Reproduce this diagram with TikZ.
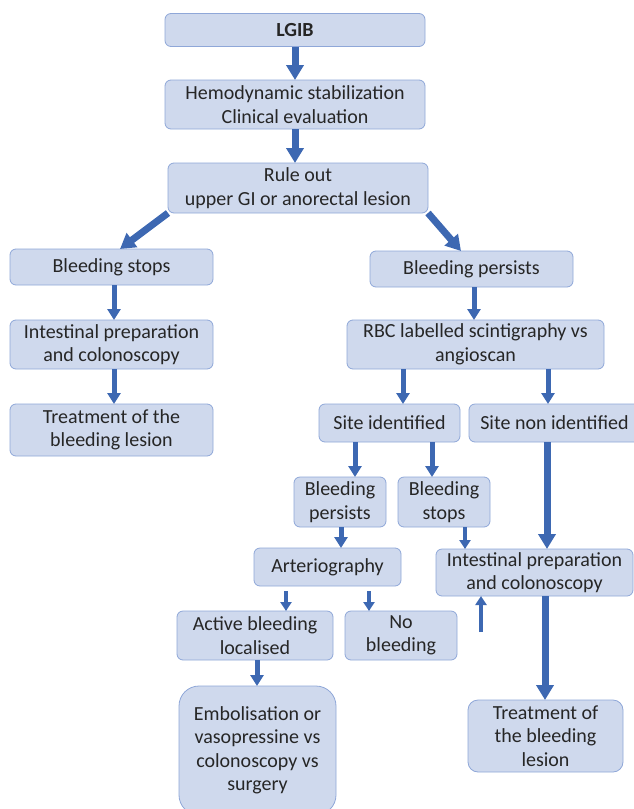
\documentclass[tikz,border=0pt]{standalone}
\usepackage{fontspec}
\setmainfont{Carlito}
\usetikzlibrary{arrows.meta}
\definecolor{boxfill}{RGB}{207,217,237}
\definecolor{boxline}{RGB}{143,167,216}
\definecolor{arrowblue}{RGB}{61,104,178}
\begin{document}
\begin{tikzpicture}
	[x=1pt,y=-1pt,
	every node/.style={inner sep=1pt,outer sep=0,align=center,text=black!85,
		font=\fontsize{20}{23.5}\selectfont},
	stage/.style={shape=rectangle,rounded corners=6pt,draw=boxline,fill=boxfill,line width=.8pt},
	bigarr/.style={-{Triangle[width=17pt,length=15pt]},line width=7pt,color=arrowblue},
	midarr/.style={-{Triangle[width=13pt,length=11pt]},line width=5pt,color=arrowblue},
	smallarr/.style={-{Triangle[width=11pt,length=9pt]},line width=4pt,color=arrowblue}]
	\def\wide{260pt}\def\half{203pt}
	\useasboundingbox (0,0) rectangle (634,809);
	\node[stage,minimum width=\wide,minimum height=33pt,font=\fontsize{20}{23.5}\selectfont\bfseries]
		(lgib) at (295,30) {LGIB};
	\node[stage,minimum width=\wide,minimum height=49pt] (hemo) at (295,104.5) {Hemodynamic stabilization\\Clinical evaluation};
	\node[stage,minimum width=\wide,minimum height=50pt] (rule) at (298,188) {Rule out\\upper GI or anorectal lesion};
	\node[stage,minimum width=\half,minimum height=36pt] (stopl) at (111.5,267) {Bleeding stops};
	\node[stage,minimum width=\half,minimum height=36pt] (persr) at (471.5,269) {Bleeding persists};
	\node[stage,minimum width=\half,minimum height=49pt] (prepl) at (111.5,344.5) {Intestinal preparation\\and colonoscopy};
	\node[stage,minimum width=\half,minimum height=52pt] (treatl) at (111.5,430) {Treatment of the\\bleeding lesion};
	\node[stage,minimum width=257pt,minimum height=49pt] (rbc) at (475.5,344.5) {RBC labelled scintigraphy vs\\angioscan};
	\node[stage,minimum width=141pt,minimum height=38pt] (siteid) at (389.5,423) {Site identified};
	\node[stage,minimum width=171pt,minimum height=38pt] (sitenon) at (554.5,423) {Site non identified};
	\node[stage,minimum width=92pt,minimum height=50pt] (persm) at (340,502) {Bleeding\\persists};
	\node[stage,minimum width=92pt,minimum height=50pt] (stopm) at (444,502) {Bleeding\\stops};
	\node[stage,minimum width=147pt,minimum height=38pt] (arterio) at (327.5,567) {Arteriography};
	\node[stage,minimum width=197pt,minimum height=47pt] (prepr) at (534.5,572.5) {Intestinal preparation\\and colonoscopy};
	\node[stage,minimum width=156pt,minimum height=49pt] (active) at (255,635.5) {Active bleeding\\localised};
	\node[stage,minimum width=112pt,minimum height=49pt] (nobleed) at (401,635.5) {No\\bleeding};
	\node[stage,rounded corners=20pt,minimum width=157pt,minimum height=129pt]
		(embol) at (257.5,750.5) {Embolisation or\\vasopressine vs\\colonoscopy vs\\surgery};
	\node[stage,rounded corners=10pt,minimum width=155pt,minimum height=72pt]
		(treatr) at (545.5,736) {Treatment of\\the bleeding\\lesion};
	\coordinate (upfoot) at (481,632);
	\draw[bigarr]
	(lgib) -- (hemo) ;
	\draw[bigarr] (hemo.south) -- (rule.north -| hemo.south) ;
	\draw[bigarr] (rule.south west) -- (stopl.north -| 120,0) ;
	\draw[bigarr] (rule.south east) -- (persr.north -| 461,0) ;
	\draw[midarr] (stopl.south -| 114,0) -- (prepl.north -| 114,0) ;
	\draw[midarr] (prepl.south -| 114,0) -- (treatl.north -| 114,0) ;
	\draw[midarr] (persr.south -| 474,0) -- (rbc.north -| 474,0) ;
	\draw[midarr] (rbc.south -| 403,0) -- (siteid.north -| 403,0) ;
	\draw[midarr] (rbc.south -| 548,0) -- (sitenon.north -| 548,0) ;
	\draw[midarr] (siteid.south -| 355,0) -- (persm.north -| 355,0) ;
	\draw[midarr] (siteid.south -| 432,0) -- (stopm.north -| 432,0) ;
	\draw[bigarr] (sitenon.south -| 547,0) -- (prepr.north -| 547,0) ;
	\draw[midarr] (persm.south -| 341,0) -- (arterio.north -| 341,0) ;
	\draw[smallarr] (stopm.south -| 465,0) -- (prepr.north -| 465,0) ;
	\draw[smallarr,shorten <=5pt] (arterio.south -| 286,0) -- (active.north -| 286,0) ;
	\draw[smallarr,shorten <=5pt] (arterio.south -| 369,0) -- (nobleed.north -| 369,0) ;
	\draw[smallarr] (upfoot) -- (prepr.south -| upfoot) ;
	\draw[bigarr] (prepr.south -| 545,0) -- (treatr.north -| 545,0) ;
	\draw[midarr] (active.south -| 257,0) -- (embol.north -| 257,0) ;
\end{tikzpicture}
\end{document}
